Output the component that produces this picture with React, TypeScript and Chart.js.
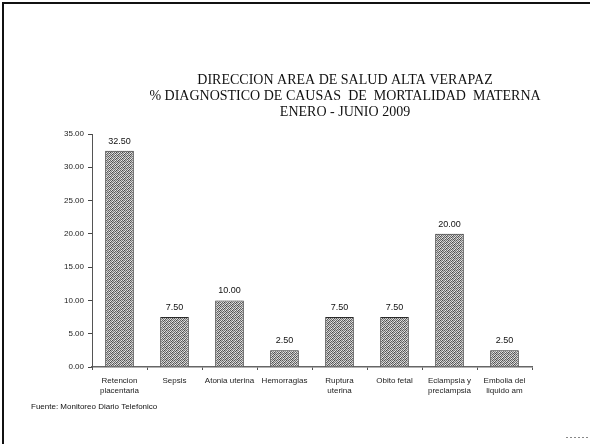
import React, { useEffect, useRef } from "react";
import { Chart, registerables } from "chart.js";

Chart.register(...registerables);

const categories: string[][] = [
  ["Retencion", "placentaria"],
  ["Sepsis"],
  ["Atonia uterina"],
  ["Hemorragias"],
  ["Ruptura", "uterina"],
  ["Obito fetal"],
  ["Eclampsia y", "preclampsia"],
  ["Embolia del", "liquido am"],
];
const values: number[] = [32.5, 7.5, 10.0, 2.5, 7.5, 7.5, 20.0, 2.5];
const titleLines: string[] = [
  "DIRECCION AREA DE SALUD ALTA VERAPAZ",
  "% DIAGNOSTICO DE CAUSAS  DE  MORTALIDAD  MATERNA",
  "ENERO - JUNIO 2009",
];
const footnote = "Fuente: Monitoreo Diario Telefonico";
const yMin = 0;
const yMax = 35;
const yStep = 5;

// dithered gray texture tile (grey levels)
const TILE: number[][] = [
  [90, 200, 120, 215, 80, 190],
  [210, 110, 230, 95, 205, 130],
  [100, 220, 70, 185, 115, 225],
  [195, 85, 200, 125, 235, 90],
  [125, 235, 105, 220, 75, 180],
  [215, 95, 190, 80, 200, 115],
];

function makePattern(): CanvasPattern | string {
  const n = TILE.length;
  const c = document.createElement("canvas");
  c.width = n;
  c.height = n;
  const g = c.getContext("2d");
  if (!g) return "#999";
  for (let y = 0; y < n; y++) {
    for (let x = 0; x < n; x++) {
      const v = TILE[y][x];
      g.fillStyle = `rgb(${v},${v},${v})`;
      g.fillRect(x, y, 1, 1);
    }
  }
  const p = g.createPattern(c, "repeat");
  return p || "#999";
}

const decorPlugin = {
  id: "decor",
  beforeDraw(chart: any) {
    const ctx = chart.ctx;
    ctx.save();
    ctx.fillStyle = "#ffffff";
    ctx.fillRect(0, 0, chart.width, chart.height);
    ctx.restore();
  },
  afterDraw(chart: any) {
    const ctx = chart.ctx;
    ctx.save();
    // frame
    ctx.strokeStyle = "#111";
    ctx.lineWidth = 2;
    ctx.beginPath();
    ctx.moveTo(3, 444);
    ctx.lineTo(3, 3);
    ctx.lineTo(590, 3);
    ctx.stroke();
    // bottom right dotted mark
    ctx.strokeStyle = "#888";
    ctx.lineWidth = 1;
    ctx.setLineDash([2, 2]);
    ctx.beginPath();
    ctx.moveTo(566, 437.5);
    ctx.lineTo(590, 437.5);
    ctx.stroke();
    ctx.setLineDash([]);
    // title
    ctx.fillStyle = "#111";
    ctx.font = "14px 'Liberation Serif', serif";
    ctx.textAlign = "center";
    ctx.textBaseline = "middle";
    titleLines.forEach((t, i) => ctx.fillText(t, 345, 80 + i * 16));
    // footnote
    ctx.font = "8px 'Liberation Sans', Arial, sans-serif";
    ctx.textAlign = "left";
    ctx.fillText(footnote, 31, 407);
    // value labels
    const meta = chart.getDatasetMeta(0);
    ctx.font = "9px 'Liberation Sans', Arial, sans-serif";
    ctx.textAlign = "center";
    ctx.textBaseline = "bottom";
    meta.data.forEach((bar: any, i: number) => {
      ctx.fillText(values[i].toFixed(2), bar.x, bar.y - 5);
    });
    ctx.restore();
  },
};

export default function App() {
  const ref = useRef<HTMLCanvasElement | null>(null);
  useEffect(() => {
    document.body.style.margin = "0";
    const canvas = ref.current;
    if (!canvas) return;
    const chart = new Chart(canvas, {
      type: "bar",
      data: {
        labels: categories,
        datasets: [
          {
            data: values,
            backgroundColor: makePattern() as any,
            borderColor: "#2a2a2a",
            borderWidth: 1,
            barPercentage: 0.52,
            categoryPercentage: 1,
          },
        ],
      },
      options: {
        animation: false,
        responsive: false,
        devicePixelRatio: 1,
        layout: { padding: { left: 0, right: 58, top: 134, bottom: 0 } },
        plugins: {
          legend: { display: false },
          tooltip: { enabled: false },
          title: { display: false },
        },
        scales: {
          x: {
            afterFit: (s: any) => {
              s.height = 444 - 367;
            },
            grid: {
              display: true,
              drawOnChartArea: false,
              offset: true,
              tickLength: 3,
              tickColor: "#555",
            },
            border: { display: true, color: "#666", width: 1.5 },
            ticks: {
              color: "#222",
              font: { family: "'Liberation Sans', Arial, sans-serif", size: 8 },
              padding: 6,
              maxRotation: 0,
              autoSkip: false,
            },
          },
          y: {
            min: yMin,
            max: yMax,
            afterFit: (s: any) => {
              s.width = 92;
            },
            grid: {
              display: true,
              drawOnChartArea: false,
              tickLength: 4,
              tickColor: "#444",
            },
            border: { display: true, color: "#555", width: 1, dash: [1, 2] },
            ticks: {
              stepSize: yStep,
              color: "#222",
              padding: 4,
              font: { family: "'Liberation Sans', Arial, sans-serif", size: 8 },
              callback: (v: any) => Number(v).toFixed(2),
            },
          },
        },
      },
      plugins: [decorPlugin],
    });
    return () => chart.destroy();
  }, []);
  return <canvas ref={ref} width={590} height={444} style={{ display: "block" }} />;
}
